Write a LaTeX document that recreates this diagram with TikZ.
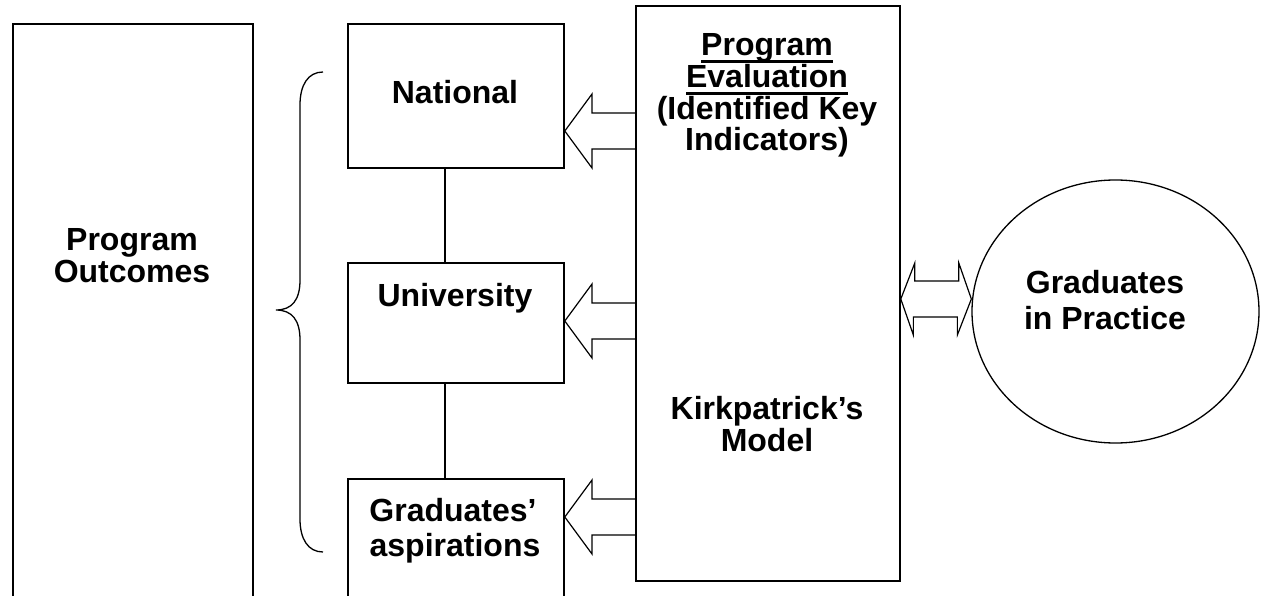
\documentclass[tikz,border=0pt]{standalone}
\usepackage{fontspec}
\setmainfont{Liberation Sans}
\usetikzlibrary{calc,shapes.geometric}
\newcommand\ulx[1]{\leavevmode\setbox0\hbox{#1}\rlap{\vrule height -4.5pt depth 7pt width \wd0}\box0}
\begin{document}
\begin{tikzpicture}[x=1pt,y=-1pt,
  box/.style={draw, line width=1.8pt, inner sep=0pt, anchor=north west},
  txt/.style={font=\fontsize{32}{33}\selectfont\bfseries, anchor=base, inner sep=0pt},
  barrow/.style={draw, line width=1.2pt, line join=miter},
  link/.style={draw, line width=1.4pt}]
\useasboundingbox (0,0) rectangle (1267,596);
\clip (0,0) rectangle (1267,596);
% boxes
\node[box, minimum width=240pt, minimum height=620pt] (out) at (12,23) {};
\node[box, minimum width=216pt, minimum height=144pt] (nat) at (347,23) {};
\node[box, minimum width=216pt, minimum height=120pt] (uni) at (347,262) {};
\node[box, minimum width=216pt, minimum height=150pt] (grad) at (347,478) {};
\node[box, minimum width=264pt, minimum height=575pt] (eval) at (635,5) {};
\node[draw, ellipse, line width=1.3pt, minimum width=287pt, minimum height=263pt, inner sep=0pt] (circ) at (1115.5,311.5) {};
% texts
\node[txt] (t1) at (132,251) {Program};
\node[txt] (t2) at (132,283) {Outcomes};
\node[txt] (t3) at (455,104) {National};
\node[txt] (t4) at (455,306) {University};
\node[txt] (t5) at (453,521) {Graduates’};
\node[txt] (t6) at (455,556) {aspirations};
\node[txt] (t7) at (767,56) {\ulx{Program}};
\node[txt] (t8) at (767,88) {\ulx{Evaluation}};
\node[txt] (t9) at (767,120) {(Identified Key};
\node[txt] (t10) at (767,151) {Indicators)};
\node[txt] (t11) at (767,419) {Kirkpatrick’s};
\node[txt] (t12) at (767,451) {Model};
\node[txt] (t13) at (1105,294) {Graduates};
\node[txt] (t14) at (1105,330) {in Practice};
% links between boxes
\draw[link] ([xshift=-11pt]nat.south) -- ([xshift=-11pt]uni.north);
\draw[link] ([xshift=-11pt]uni.south) -- ([xshift=-11pt]grad.north);
% block arrows
\foreach \n/\c in {nat/131, uni/321, grad/517}{
  \draw[barrow] (eval.west |- 0,{\c-18}) -| (592,{\c-37}) -- (\n.east |- 0,\c) -- (592,{\c+37}) |- (eval.west |- 0,{\c+18});
}
\draw[barrow] (eval.east |- 0,299) -- ++(14,-36) -- ++(0,18) -- ++(44,0) -- ++(0,-18) -- (circ.west |- 0,299) -- ++(-14,36) -- ++(0,-18) -- ++(-44,0) -- ++(0,18) -- cycle;
% brace
\coordinate (btop) at (323,72);
\coordinate (bbot) at (323,552);
\draw[line width=1.3pt] (btop) .. controls (308,72) and (300,85) .. (300,105) -- (300,280) .. controls (300,300) and (292,310) .. (276,310) .. controls (292,310) and (300,320) .. (300,340) -- (300,519) .. controls (300,539) and (308,552) .. (bbot);
\end{tikzpicture}
\end{document}
